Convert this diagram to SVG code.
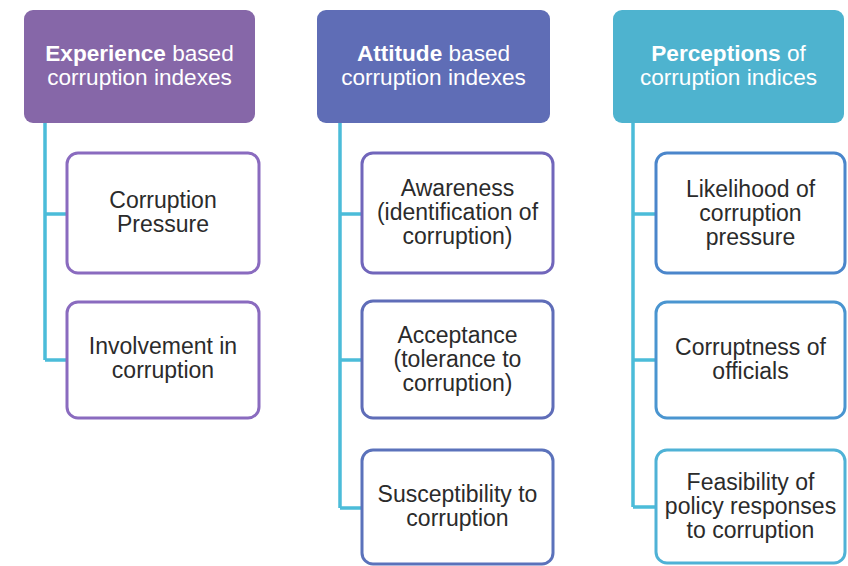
<svg xmlns="http://www.w3.org/2000/svg" width="848" height="566" viewBox="0 0 848 566">
  <style>
    .hdr-text { font-family: "Liberation Sans", Arial, sans-serif; font-size: 22.6px; fill: #ffffff; text-anchor: middle; }
    .hdr-text .b { font-weight: bold; }
    .item { fill: #ffffff; stroke-width: 3; }
    .item-text { font-family: "Liberation Sans", Arial, sans-serif; font-size: 23px; fill: #2b2b2b; text-anchor: middle; }
    .conn { fill: none; stroke: #4bbcd9; stroke-width: 3.5; stroke-linejoin: miter; }
  </style>

  <rect width="848" height="566" fill="#ffffff"/>

  <!-- tree connectors -->
  <g id="connectors" class="conn">
    <path d="M45 123 V360 M45 214 H67 M45 360 H67"/>
    <path d="M340 123 V508 M340 214 H362 M340 360 H362 M340 508 H362"/>
    <path d="M633 123 V507 M633 214 H656 M633 360 H656 M633 507 H656"/>
  </g>

  <!-- column 1: experience -->
  <g id="hdr-experience">
    <rect x="24" y="10" width="231" height="113" rx="9" fill="#8667a8"/>
    <text class="hdr-text" x="139.5" y="61"><tspan class="b">Experience</tspan> based</text>
    <text class="hdr-text" x="139.5" y="85">corruption indexes</text>
  </g>
  <g id="corruption-pressure">
    <rect class="item" x="67" y="153" width="192" height="120" rx="11" stroke="#8a6bbf"/>
    <text class="item-text" x="163" y="208">Corruption</text>
    <text class="item-text" x="163" y="232">Pressure</text>
  </g>
  <g id="involvement">
    <rect class="item" x="67" y="302" width="192" height="116" rx="11" stroke="#8a6bbf"/>
    <text class="item-text" x="163" y="354">Involvement in</text>
    <text class="item-text" x="163" y="378">corruption</text>
  </g>

  <!-- column 2: attitude -->
  <g id="hdr-attitude">
    <rect x="317" y="10" width="233" height="113" rx="9" fill="#5f6db6"/>
    <text class="hdr-text" x="433.5" y="61"><tspan class="b">Attitude</tspan> based</text>
    <text class="hdr-text" x="433.5" y="85">corruption indexes</text>
  </g>
  <g id="awareness">
    <rect class="item" x="362" y="153" width="191" height="120" rx="11" stroke="#7166bb"/>
    <text class="item-text" x="457.5" y="196">Awareness</text>
    <text class="item-text" x="457.5" y="220">(identification of</text>
    <text class="item-text" x="457.5" y="244">corruption)</text>
  </g>
  <g id="acceptance">
    <rect class="item" x="362" y="301" width="191" height="117" rx="11" stroke="#5f6db8"/>
    <text class="item-text" x="457.5" y="343">Acceptance</text>
    <text class="item-text" x="457.5" y="367">(tolerance to</text>
    <text class="item-text" x="457.5" y="391">corruption)</text>
  </g>
  <g id="susceptibility">
    <rect class="item" x="362" y="450" width="191" height="114" rx="11" stroke="#5b72bb"/>
    <text class="item-text" x="457.5" y="502">Susceptibility to</text>
    <text class="item-text" x="457.5" y="526">corruption</text>
  </g>

  <!-- column 3: perceptions -->
  <g id="hdr-perceptions">
    <rect x="613" y="10" width="231" height="113" rx="9" fill="#4eb3cf"/>
    <text class="hdr-text" x="728.5" y="61"><tspan class="b">Perceptions</tspan> of</text>
    <text class="hdr-text" x="728.5" y="85">corruption indices</text>
  </g>
  <g id="likelihood">
    <rect class="item" x="656" y="153" width="189" height="120" rx="11" stroke="#4b86cb"/>
    <text class="item-text" x="750.5" y="197">Likelihood of</text>
    <text class="item-text" x="750.5" y="221">corruption</text>
    <text class="item-text" x="750.5" y="245">pressure</text>
  </g>
  <g id="corruptness">
    <rect class="item" x="656" y="302" width="189" height="116" rx="11" stroke="#4a95d0"/>
    <text class="item-text" x="750.5" y="355">Corruptness of</text>
    <text class="item-text" x="750.5" y="379">officials</text>
  </g>
  <g id="feasibility">
    <rect class="item" x="656" y="450" width="189" height="113" rx="11" stroke="#4fb2d6"/>
    <text class="item-text" x="750.5" y="490">Feasibility of</text>
    <text class="item-text" x="750.5" y="514">policy responses</text>
    <text class="item-text" x="750.5" y="538">to corruption</text>
  </g>
</svg>
